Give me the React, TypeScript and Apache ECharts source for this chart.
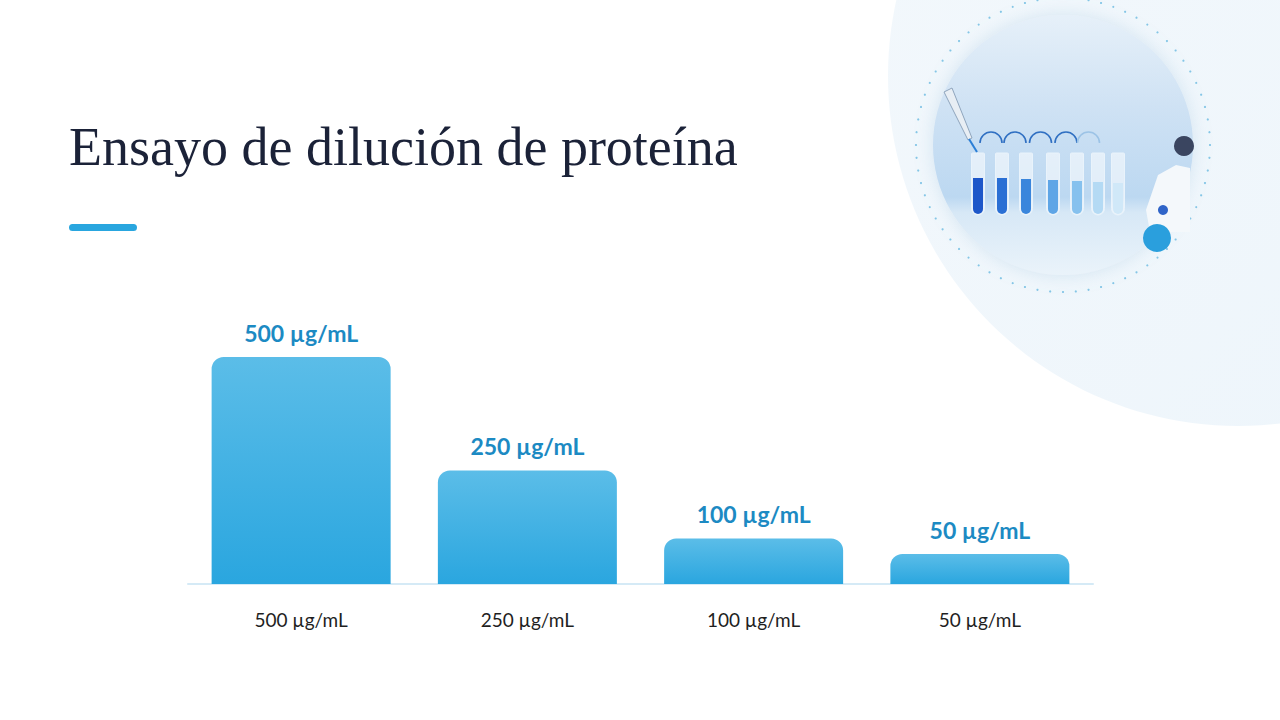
import { useEffect, useRef } from "react";
import * as echarts from "echarts";

const categories = ["500 µg/mL", "250 µg/mL", "100 µg/mL", "50 µg/mL"];
const concentrations = [500, 250, 100, 50];
const valueLabels = ["500 µg/mL", "250 µg/mL", "100 µg/mL", "50 µg/mL"];

// serial-dilution tubes in the illustration (liquid shade per tube)
const tubeColors = ["#1d57c9", "#2a6fd4", "#3a86dc", "#5ea5e6", "#86c1ee", "#b4daf4", "#d0e8f8"];
const tubeLevels = [178, 178, 179, 180, 181, 182, 183];

const TITLE = "Ensayo de dilución de proteína";

function illustration() {
  const cx = 1063;
  const cy = 145;
  const els: any[] = [];
  // big pale backdrop
  els.push({
    type: "circle",
    z: -10,
    shape: { cx: 1238, cy: 76, r: 350 },
    style: {
      fill: new echarts.graphic.LinearGradient(0, 0, 1, 1, [
        { offset: 0, color: "#f3f8fc" },
        { offset: 1, color: "#edf5fb" },
      ]),
    },
  });
  // dotted ring
  const dots = 72;
  for (let i = 0; i < dots; i++) {
    const a = (i / dots) * Math.PI * 2;
    els.push({
      type: "circle",
      z: -9,
      shape: { cx: cx + Math.cos(a) * 147, cy: cy + Math.sin(a) * 147, r: 1.1 },
      style: { fill: "#86c6e6" },
    });
  }
  // photo disc
  els.push({
    type: "circle",
    z: -8,
    shape: { cx, cy, r: 130 },
    style: {
      fill: new echarts.graphic.LinearGradient(0, 0, 0, 1, [
        { offset: 0, color: "#e6f0f9" },
        { offset: 0.35, color: "#cfe2f4" },
        { offset: 0.7, color: "#bcd8f1" },
        { offset: 0.76, color: "#d7e8f6" },
        { offset: 1, color: "#eaf3fa" },
      ]),
      shadowBlur: 18,
      shadowColor: "rgba(120,170,210,0.25)",
    },
  });
  // transfer arcs
  const tubeX = [978, 1002, 1026, 1053, 1077, 1098, 1118];
  for (let i = 0; i < tubeX.length - 2; i++) {
    els.push({
      type: "arc",
      z: -6,
      shape: { cx: (tubeX[i] + tubeX[i + 1]) / 2 + 1, cy: 143, r: 11, startAngle: Math.PI, endAngle: Math.PI * 2 },
      style: { stroke: i < 4 ? "#2f6fc2" : "#9cc3e6", lineWidth: 1.6, fill: "none" },
    });
  }
  // tubes
  tubeX.forEach((x, i) => {
    els.push({
      type: "rect",
      z: -6,
      shape: { x: x - 6.5, y: 153, width: 13, height: 62, r: [1, 1, 6.5, 6.5] },
      style: { fill: "rgba(255,255,255,0.55)", stroke: "#e9f3fb", lineWidth: 1 },
    });
    els.push({
      type: "rect",
      z: -5,
      shape: { x: x - 5, y: tubeLevels[i], width: 10, height: 214 - tubeLevels[i], r: [0, 0, 5, 5] },
      style: { fill: tubeColors[i] },
    });
  });
  // pipette
  els.push({
    type: "polygon",
    z: -5,
    shape: { points: [[944, 92], [952, 88], [972, 138], [968, 140]] },
    style: { fill: "#e8eef4", stroke: "#8fa5bd", lineWidth: 1 },
  });
  els.push({
    type: "line",
    z: -5,
    shape: { x1: 969, y1: 139, x2: 977, y2: 152 },
    style: { stroke: "#2b7fd6", lineWidth: 2 },
  });
  // scientist silhouette
  els.push({
    type: "polygon",
    z: -5,
    shape: { points: [[1158, 175], [1176, 165], [1190, 168], [1190, 232], [1150, 232], [1146, 210]] },
    style: { fill: "#f4f8fb" },
  });
  els.push({
    type: "circle",
    z: -4,
    shape: { cx: 1184, cy: 146, r: 10 },
    style: { fill: "#3a4560" },
  });
  els.push({
    type: "circle",
    z: -4,
    shape: { cx: 1163, cy: 210, r: 5 },
    style: { fill: "#2f64c8" },
  });
  // accent dot
  els.push({
    type: "circle",
    z: -3,
    shape: { cx: 1157, cy: 238, r: 14 },
    style: { fill: "#2a9fdd" },
  });
  return els;
}

export default function App() {
  const ref = useRef<HTMLDivElement>(null);

  useEffect(() => {
    if (!ref.current) return;
    const chart = echarts.init(ref.current, null, { renderer: "svg" });

    chart.setOption({
      animation: false,
      backgroundColor: "#ffffff",
      grid: { left: 188, right: 187, top: 357, bottom: 136 },
      xAxis: {
        type: "category",
        data: categories,
        axisLine: { lineStyle: { color: "#d5eaf6", width: 2 } },
        axisTick: { show: false },
        axisLabel: {
          margin: 26,
          color: "#1f1f1f",
          fontSize: 19,
          fontFamily: "Lato",
        },
      },
      yAxis: {
        type: "value",
        min: 0,
        max: 500,
        show: false,
        splitLine: { show: false },
      },
      graphic: [
        ...illustration(),
        {
          type: "text",
          x: 69,
          y: 147,
          style: {
            text: TITLE,
            fill: "#1b2238",
            font: '54px "Liberation Serif"',
            verticalAlign: "middle",
          },
        },
        {
          type: "rect",
          shape: { x: 69, y: 224, width: 68, height: 7, r: 3.5 },
          style: { fill: "#29a6df" },
        },
      ],
      series: [
        {
          type: "bar",
          data: concentrations,
          barWidth: 179,
          barMinHeight: 30,
          itemStyle: {
            borderRadius: [12, 12, 0, 0],
            color: new echarts.graphic.LinearGradient(0, 0, 0, 1, [
              { offset: 0, color: "#5bbde8" },
              { offset: 1, color: "#2aa6df" },
            ]),
          },
          label: {
            show: true,
            position: "top",
            distance: 13,
            color: "#1c8ac3",
            fontSize: 23,
            fontWeight: "bold",
            fontFamily: "Lato",
            formatter: (p: any) => valueLabels[p.dataIndex],
          },
        },
      ],
    });

    return () => chart.dispose();
  }, []);

  return (
    <div
      ref={ref}
      style={{ position: "fixed", left: 0, top: 0, width: 1280, height: 720 }}
    />
  );
}
